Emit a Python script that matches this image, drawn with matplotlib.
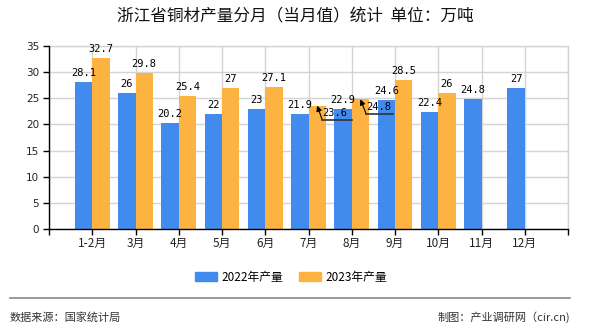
import numpy as np
import matplotlib
matplotlib.use("Agg")
from matplotlib import pyplot as plt
from matplotlib.patches import Patch
from matplotlib.lines import Line2D
from matplotlib.transforms import IdentityTransform

plt.rcParams['font.family'] = ['Noto Sans CJK SC', 'DejaVu Sans']

months = ["1-2月", "3月", "4月", "5月", "6月", "7月", "8月", "9月", "10月", "11月", "12月"]
output_2022 = [28.1, 26, 20.2, 22, 23, 21.9, 22.9, 24.6, 22.4, 24.8, 27]
output_2023 = [32.7, 29.8, 25.4, 27, 27.1, 23.6, 24.8, 28.5, 26]
series_names = ["2022年产量", "2023年产量"]
yticks = [0, 5, 10, 15, 20, 25, 30, 35]

blue = "#418bee"
orange = "#fdb342"

W, H = 590, 330
fig = plt.figure(figsize=(W / 100, H / 100), dpi=100)
ax = fig.add_axes([49 / W, 1 - 229 / H, 519 / W, 183 / H])

pos = np.arange(1, len(months) + 1)
bw = 0.4
ax.bar(pos[:len(output_2022)] - bw / 2, output_2022, bw, color=blue, zorder=3)
ax.bar(pos[:len(output_2023)] + bw / 2, output_2023, bw, color=orange, zorder=3)

ax.set_xlim(0, 12)
ax.set_ylim(0, 35)
ax.set_yticks(yticks)
ax.set_xticks(np.arange(0, 13))
ax.set_xticklabels([""] + months + [""], fontsize=8.5, color="#222222")
ax.set_yticklabels([str(v) for v in yticks], fontsize=7.5, color="#222222",
                   family="DejaVu Sans")
ax.tick_params(axis="x", length=4, width=1, color="black", pad=2)
ax.tick_params(axis="y", length=4, width=1, color="black", pad=3)
ax.grid(True, color="#d4d4d4", lw=1, zorder=0)
ax.axvline(12, color="#d4d4d4", lw=1, clip_on=False, zorder=0)
ax.axhline(35, color="#d4d4d4", lw=1, clip_on=False, zorder=0)
for s in ["top", "right"]:
    ax.spines[s].set_visible(False)
for s in ["left", "bottom"]:
    ax.spines[s].set_color("black")
    ax.spines[s].set_linewidth(1)
    ax.spines[s].set_zorder(4)

lbl = dict(ha="center", va="bottom", fontsize=7.5, family="DejaVu Sans Mono",
           textcoords="offset points", xytext=(0, 3), zorder=5)
for x, v in zip(pos, output_2022):
    ax.annotate(f"{v:g}", (x - bw / 2, v), **lbl)

# labels pushed aside with a leader line in the original
moved = {5: (5, -14, 30), 6: (6, -15, 27)}
for i, v in enumerate(output_2023):
    x = pos[i] + bw / 2
    if i in moved:
        dx, dy, ln = moved[i]
        px, py = ax.transData.transform((x, v))
        ax.annotate(f"{v:g}", (x, v), xytext=(dx, dy / 2), textcoords="offset pixels",
                    ha="left", va="center", fontsize=7.5, family="DejaVu Sans Mono", zorder=6)
        ax.annotate("", (x, v), xytext=(dx, dy), textcoords="offset pixels",
                    arrowprops=dict(arrowstyle="-|>", color="black", lw=0.8,
                                    shrinkA=0, shrinkB=0, mutation_scale=8), zorder=6)
        fig.add_artist(Line2D([px + dx, px + dx + ln], [py + dy, py + dy],
                              transform=IdentityTransform(), color="#333333", lw=1.2))
    else:
        ax.annotate(f"{v:g}", (x, v), **lbl)

fig.text(295 / W, 1 - 17 / H, "浙江省铜材产量分月（当月值）统计  单位：万吨",
         ha="center", va="center", fontsize=12, color="#111111")

handles = [Patch(color=blue), Patch(color=orange)]
fig.legend(handles, series_names, loc="center", bbox_to_anchor=(291 / W, 1 - 277 / H),
           ncol=2, frameon=False, fontsize=8.5, handlelength=1.85, handleheight=0.75,
           handletextpad=0.35, columnspacing=1.35)

fig.add_artist(Line2D([10 / W, 570 / W], [1 - 298 / H, 1 - 298 / H],
                      transform=fig.transFigure, color="#888888", lw=1.2))
fig.text(10 / W, 1 - 317 / H, "数据来源：国家统计局", ha="left", va="center",
         fontsize=8, color="#333333")
fig.text(570 / W, 1 - 317 / H, "制图：产业调研网（cir.cn)", ha="right", va="center",
         fontsize=8, color="#333333")

fig.savefig("out.png", dpi=100)
